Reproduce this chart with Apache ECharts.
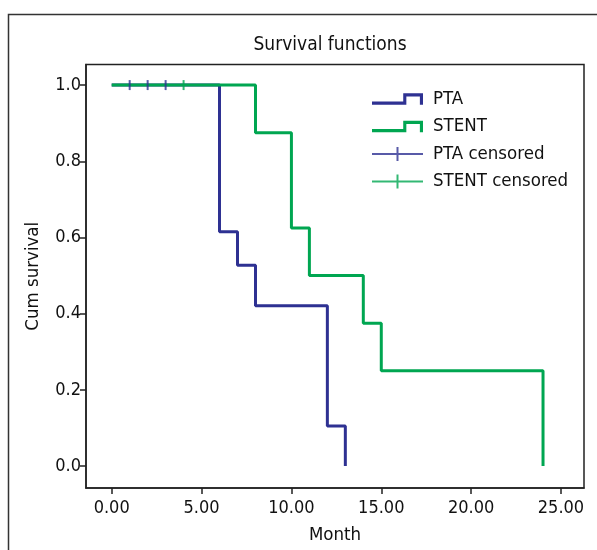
<!DOCTYPE html>
<html>
<head>
<meta charset="utf-8">
<script src="https://cdn.jsdelivr.net/npm/echarts@6/dist/echarts.min.js"></script>
<style>
html,body{margin:0;padding:0;background:#fff;}
#chart{width:597px;height:550px;}
</style>
</head>
<body>
<div id="chart"></div>
<script>
// Kaplan-Meier step data: [month, cumulative survival]
var ptaTimes = [0, 6, 7, 8, 12, 13];
var ptaSurvival = [1.0, 0.615, 0.527, 0.421, 0.105, 0.0];
var stentTimes = [0, 8, 10, 11, 14, 15, 24];
var stentSurvival = [1.0, 0.875, 0.625, 0.5, 0.375, 0.25, 0.0];
// censored observations
var ptaCensoredTimes = [1, 2, 3];
var ptaCensoredSurvival = [1.0, 1.0, 1.0];
var stentCensoredTimes = [4];
var stentCensoredSurvival = [1.0];
// axis ticks
var xTicks = [0, 5, 10, 15, 20, 25];
var yTicks = [0, 0.2, 0.4, 0.6, 0.8, 1.0];

function zip(a, b) { return a.map(function (v, i) { return [v, b[i]]; }); }

var BLUE = '#2e3192';
var GREEN = '#00a651';
var FONT = "'DejaVu Sans Condensed', 'Liberation Sans', sans-serif";

var stepIcon = 'path://M0,8 L30,8 L30,0 L49,0 L49,11 L46,11 L46,3 L33,3 L33,11 L0,11 Z';
var censorIcon = 'path://M0,6 L24.5,6 L24.5,0 L26.5,0 L26.5,6 L51,6 L51,8 L26.5,8 L26.5,14 L24.5,14 L24.5,8 L0,8 Z';

var chart = echarts.init(document.getElementById('chart'), null, {renderer: 'canvas'});
chart.setOption({
  backgroundColor: '#fff',
  animation: false,
  textStyle: {fontFamily: FONT, color: '#111'},
  title: {
    text: 'Survival functions',
    left: 325, top: 31, textAlign: 'center',
    textStyle: {fontFamily: FONT, fontSize: 19, fontWeight: 'normal', color: '#111'}
  },
  graphic: [{
    type: 'rect', silent: true, z: -1,
    shape: {x: 8.5, y: 14.5, width: 800, height: 800},
    style: {fill: 'none', stroke: '#333', lineWidth: 1.5}
  }],
  legend: {
    orient: 'vertical', left: 367, top: 84,
    itemWidth: 51, itemHeight: 14, itemGap: 7.5,
    itemStyle: {borderWidth: 0},
    textStyle: {fontFamily: FONT, fontSize: 18.5, color: '#111', lineHeight: 20, padding: [0, 0, 0, 5]},
    data: [
      {name: 'PTA', icon: stepIcon},
      {name: 'STENT', icon: stepIcon},
      {name: 'PTA censored', icon: censorIcon},
      {name: 'STENT censored', icon: censorIcon}
    ]
  },
  grid: {
    left: 86, right: 13, top: 64.5, bottom: 61,
    show: true, borderColor: '#222', borderWidth: 1.5, backgroundColor: 'transparent'
  },
  xAxis: {
    type: 'value', min: -1.43, max: 26.28,
    name: 'Month', nameLocation: 'middle', nameGap: 38,
    nameTextStyle: {fontFamily: FONT, fontSize: 18.5, color: '#111'},
    axisLine: {show: true, onZero: false, lineStyle: {color: '#222', width: 1.5}},
    axisTick: {show: true, length: 6, customValues: xTicks, lineStyle: {color: '#222', width: 1.5}},
    axisLabel: {customValues: xTicks, margin: 11, fontFamily: FONT, fontSize: 18, color: '#111',
      formatter: function (v) { return v.toFixed(2); }},
    splitLine: {show: false}
  },
  yAxis: {
    type: 'value', min: -0.0576, max: 1.054,
    name: 'Cum survival', nameLocation: 'middle', nameGap: 43, nameRotate: 90,
    nameTextStyle: {fontFamily: FONT, fontSize: 18.5, color: '#111'},
    axisLine: {show: true, onZero: false, lineStyle: {color: '#222', width: 1.5}},
    axisTick: {show: true, length: 6, customValues: yTicks, lineStyle: {color: '#222', width: 1.5}},
    axisLabel: {customValues: yTicks, margin: 5, fontFamily: FONT, fontSize: 18, color: '#111',
      formatter: function (v) { return v.toFixed(1); }},
    splitLine: {show: false}
  },
  series: [
    {
      name: 'PTA', type: 'line', step: 'end', showSymbol: false, symbol: 'none',
      data: zip(ptaTimes, ptaSurvival), color: BLUE, z: 2,
      lineStyle: {color: BLUE, width: 3}
    },
    {
      name: 'STENT', type: 'line', step: 'end', showSymbol: false, symbol: 'none',
      data: zip(stentTimes, stentSurvival), color: GREEN, z: 3,
      lineStyle: {color: GREEN, width: 3}
    },
    {
      name: 'PTA censored', type: 'scatter', symbol: 'rect', symbolSize: [2, 10],
      data: zip(ptaCensoredTimes, ptaCensoredSurvival), color: BLUE, z: 5,
      itemStyle: {color: BLUE}
    },
    {
      name: 'STENT censored', type: 'scatter', symbol: 'rect', symbolSize: [2, 10],
      data: zip(stentCensoredTimes, stentCensoredSurvival), color: GREEN, z: 5,
      itemStyle: {color: GREEN}
    }
  ]
});
</script>
</body>
</html>
